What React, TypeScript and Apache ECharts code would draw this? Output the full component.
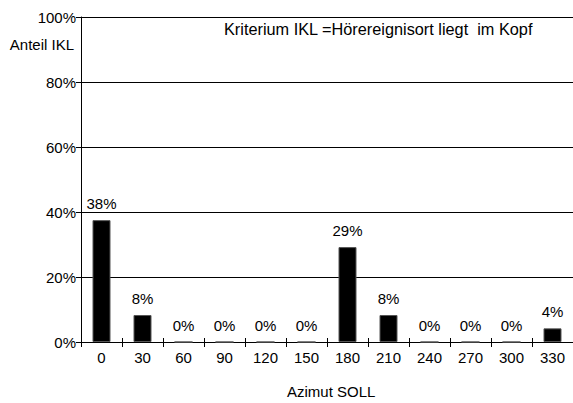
import React, { useEffect, useRef } from "react";
import * as echarts from "echarts";

const categories = ["0", "30", "60", "90", "120", "150", "180", "210", "240", "270", "300", "330"];
const shareIKL = [37.5, 8.3, 0, 0, 0, 0, 29.2, 8.3, 0, 0, 0, 4.2];
const yTicks = [0, 20, 40, 60, 80, 100];
const titleText = "Kriterium IKL =Hörereignisort liegt  im Kopf";
const yName = "Anteil IKL";
const xName = "Azimut SOLL";

const FONT = "'Liberation Sans', Arial, sans-serif";

export default function App() {
  const ref = useRef<HTMLDivElement>(null);
  useEffect(() => {
    if (!ref.current) return;
    const chart = echarts.init(ref.current, undefined, { renderer: "svg" });
    chart.setOption({
      animation: false,
      backgroundColor: "#fff",
      textStyle: { fontFamily: FONT },
      grid: { left: 81, top: 17, width: 494, bottom: 61, containLabel: false },
      graphic: [
        {
          type: "text",
          left: 224,
          top: 21,
          style: { text: titleText, font: `16.3px ${FONT}`, fill: "#000" },
        },
        {
          type: "text",
          right: 573 - 74,
          top: 37,
          style: { text: yName, font: `15px ${FONT}`, fill: "#000", textAlign: "right" },
        },
        {
          type: "text",
          left: 287,
          top: 384,
          style: { text: xName, font: `15px ${FONT}`, fill: "#000" },
        },
      ],
      xAxis: [
        {
          type: "category",
          data: categories,
          position: "bottom",
          axisLine: { lineStyle: { color: "#000", width: 1 } },
          axisTick: { show: true, length: 5, alignWithLabel: false, lineStyle: { color: "#000" } },
          axisLabel: { color: "#000", fontSize: 15, fontFamily: FONT, margin: 8, interval: 0 },
          splitLine: { show: false },
        },
        {
          type: "category",
          data: categories,
          position: "bottom",
          axisLine: { show: false },
          axisTick: { show: true, inside: true, length: 4, lineStyle: { color: "#000" } },
          axisLabel: { show: false },
          splitLine: { show: false },
        },
      ],
      yAxis: {
        type: "value",
        min: 0,
        max: 100,
        interval: 20,
        axisLine: { show: true, lineStyle: { color: "#000", width: 1 } },
        axisTick: { show: true, length: 5, lineStyle: { color: "#000" } },
        axisLabel: {
          color: "#000",
          fontSize: 15,
          fontFamily: FONT,
          margin: 5,
          formatter: (v: number) => (yTicks.includes(v) ? `${v}%` : ""),
        },
        splitLine: { show: true, lineStyle: { color: "#000", width: 1 } },
      },
      series: [
        {
          type: "bar",
          xAxisIndex: 0,
          data: shareIKL,
          barWidth: 18,
          itemStyle: { color: "#000", borderColor: "#555", borderWidth: 1 },
          label: {
            show: true,
            position: "top",
            distance: 9,
            color: "#000",
            fontSize: 15,
            fontFamily: FONT,
            formatter: (p: any) => `${Math.round(p.value)}%`,
          },
        },
      ],
    });
    return () => chart.dispose();
  }, []);
  return <div ref={ref} style={{ width: 573, height: 403, position: "absolute", left: 0, top: 0 }} />;
}
